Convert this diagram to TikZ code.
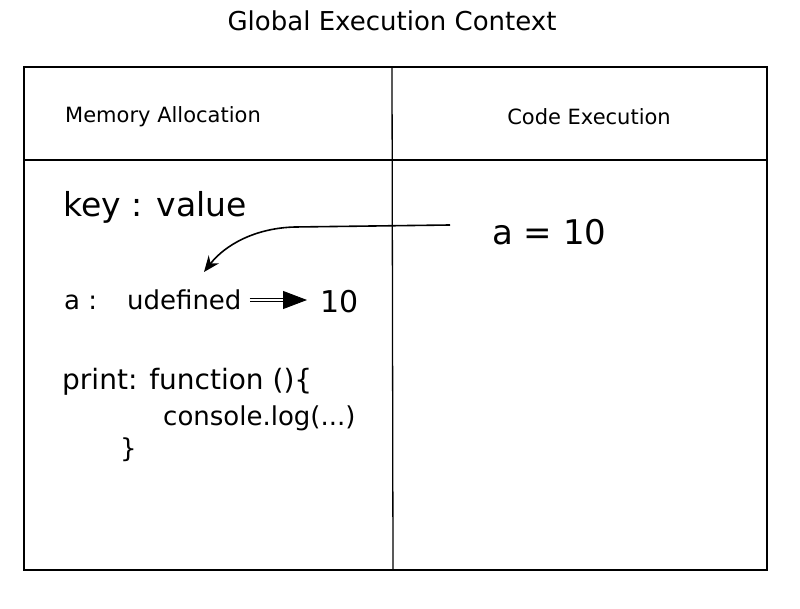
\documentclass[tikz,border=0pt]{standalone}
\usepackage{fontspec}
\setmainfont{DejaVu Sans}
\usetikzlibrary{arrows.meta}

\tikzset{
  frame/.style={line width=1.3pt},
  hand/.style={inner sep=0pt, anchor=base west},
  big/.style={hand, font=\fontsize{33}{38}\selectfont},
  mid/.style={hand, font=\fontsize{26}{30}\selectfont},
  head/.style={inner sep=0pt, font=\fontsize{21}{25}\selectfont},
}

\begin{document}
\begin{tikzpicture}[x=1pt, y=-1pt]
  \useasboundingbox (0,0) rectangle (800,609);
  % --- outer box and dividers ---
  \draw[frame] (24,67) rectangle (767,570);
  \draw[frame] (392,67) -- (393,570);
  \draw[frame] (24,160) -- (767,160);

  % --- headings ---
  \node[inner sep=0pt, anchor=base, font=\fontsize{26}{30}\selectfont] (title) at (392,31) {Global Execution Context};
  \node[head, anchor=base west] (mem) at (65,123) {Memory Allocation};
  \node[head, anchor=base] (code) at (589,125) {Code Execution};

  % --- memory column ---
  \node[big] (keyval) at (63,217) {key : value};
  \node[mid] (avar) at (64,310) {a :\hspace{30pt}udefined};
  \node[hand, font=\fontsize{30}{34}\selectfont] (ten) at (320,313) {10};
  \node[hand, font=\fontsize{28}{32}\selectfont] (print) at (62,389) {print: function ()\{};
  \node[mid] (clog) at (163,425) {console.log(...)};
  \node[mid] (brace) at (120,457) {\}};

  % --- code column ---
  \node[hand, font=\fontsize{34}{38}\selectfont] (aeq) at (492,245) {a = 10};

  % --- arrows ---
  \coordinate (start) at (450,225);
  \coordinate (hit) at (204,272);
  \draw[line width=1.6pt, -{Stealth[length=16pt, width=13pt]}]
    (start) -- (295,227) .. controls (255,228) and (225,245) .. (hit);
  \draw[double, double distance=2.5pt, line width=0.9pt, -{Triangle[length=24pt, width=18pt]}]
    ([xshift=8pt,yshift=10pt]avar.base east) -- ([xshift=-13pt,yshift=13pt]ten.base west);
\end{tikzpicture}
\end{document}
